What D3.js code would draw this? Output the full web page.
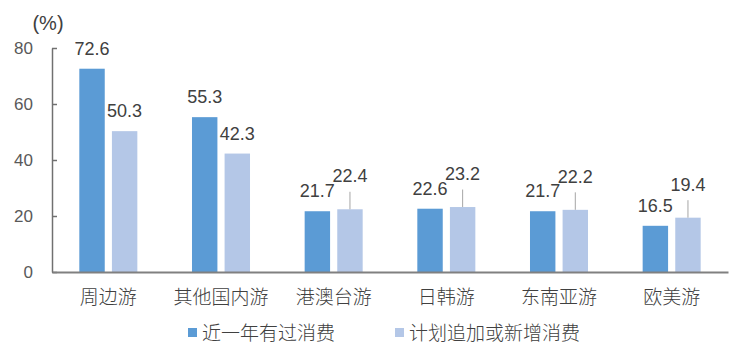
<!DOCTYPE html>
<html>
<head>
<meta charset="utf-8">
<script src="https://cdn.jsdelivr.net/npm/d3@7"></script>
<style>
  html, body { margin: 0; padding: 0; background: #fff; }
  svg { display: block; }
  text { font-family: "Liberation Sans", Arial, "Noto Sans CJK SC", sans-serif; }
  .cjk { font-family: "Noto Sans CJK SC", sans-serif; font-weight: 300; }
</style>
</head>
<body>
<svg id="chart" width="750" height="358"></svg>
<script>
const categories = ["周边游", "其他国内游", "港澳台游", "日韩游", "东南亚游", "欧美游"];
const seriesNames = ["近一年有过消费", "计划追加或新增消费"];
const recentValues = [72.6, 55.3, 21.7, 22.6, 21.7, 16.5];
const planValues = [50.3, 42.3, 22.4, 23.2, 22.2, 19.4];
const yTicks = [0, 20, 40, 60, 80];
const colors = ["#5B9BD5", "#B4C7E7"];

const svg = d3.select("#chart");
const plotLeft = 52, plotRight = 728, plotTop = 48, plotBottom = 272;

const x0 = d3.scaleBand().domain(categories).range([plotLeft, plotRight])
  .paddingInner(0.485).paddingOuter(0.2425);
const x1 = d3.scaleBand().domain([0, 1]).range([0, x0.bandwidth()]).paddingInner(0.22);
const y = d3.scaleLinear().domain([0, 80]).range([plotBottom, plotTop]);

// Y axis
const yAxis = svg.append("g").attr("transform", `translate(${plotLeft},0)`)
  .call(d3.axisLeft(y).tickValues(yTicks).tickSizeInner(-5).tickSizeOuter(0).tickPadding(19));
yAxis.select(".domain").attr("stroke", "#707070").attr("stroke-width", 1.5);
yAxis.selectAll(".tick line").attr("stroke", "#707070").attr("stroke-width", 1.5);
yAxis.selectAll(".tick text").attr("fill", "#595959").style("font-size", "17px")
  .style("font-family", "'Liberation Sans', Arial, sans-serif");

svg.append("text").attr("x", 48).attr("y", 30).attr("text-anchor", "middle")
  .attr("fill", "#404040").style("font-size", "20px").text("(%)");

// Bars
const series = [recentValues, planValues];
series.forEach((vals, si) => {
  svg.append("g").selectAll("rect").data(vals).join("rect")
    .attr("x", (d, i) => x0(categories[i]) + x1(si))
    .attr("width", x1.bandwidth())
    .attr("y", d => y(d))
    .attr("height", d => y(0) - y(d))
    .attr("fill", colors[si]);
});

// X axis
const xAxis = svg.append("g").attr("transform", `translate(0,${plotBottom})`)
  .call(d3.axisBottom(x0).tickSize(0).tickSizeOuter(0));
xAxis.select(".domain").attr("stroke", "#808080").attr("stroke-width", 2);
xAxis.selectAll(".tick text").attr("y", 32).attr("dy", 0)
  .attr("fill", "#404040").attr("class", "cjk").style("font-size", "19px");

// Value labels
const labelG = svg.append("g").style("font-size", "18px").attr("fill", "#404040");
recentValues.forEach((v, i) => {
  labelG.append("text")
    .attr("x", x0(categories[i]) + x1(0) + x1.bandwidth() / 2)
    .attr("y", y(v) - 14)
    .attr("text-anchor", "middle").text(v.toFixed(1));
});
planValues.forEach((v, i) => {
  const cx = x0(categories[i]) + x1(1) + x1.bandwidth() / 2;
  const raised = i >= 2;
  const base = y(v) - (raised ? 27 : 14);
  if (raised) {
    svg.append("line").attr("x1", cx).attr("x2", cx)
      .attr("y1", base + 9.5).attr("y2", y(v))
      .attr("stroke", "#a6a6a6").attr("stroke-width", 1);
  }
  labelG.append("text").attr("x", cx).attr("y", base)
    .attr("text-anchor", "middle").text(v.toFixed(1));
});

// Legend
const legendPos = [188, 395];
seriesNames.forEach((name, si) => {
  const g = svg.append("g").attr("transform", `translate(${legendPos[si]},0)`);
  g.append("rect").attr("x", 0).attr("y", 328).attr("width", 9).attr("height", 9).attr("fill", colors[si]);
  g.append("text").attr("x", 14).attr("y", 340).attr("class", "cjk")
    .attr("fill", "#404040").style("font-size", "19px").text(name);
});
</script>
</body>
</html>
